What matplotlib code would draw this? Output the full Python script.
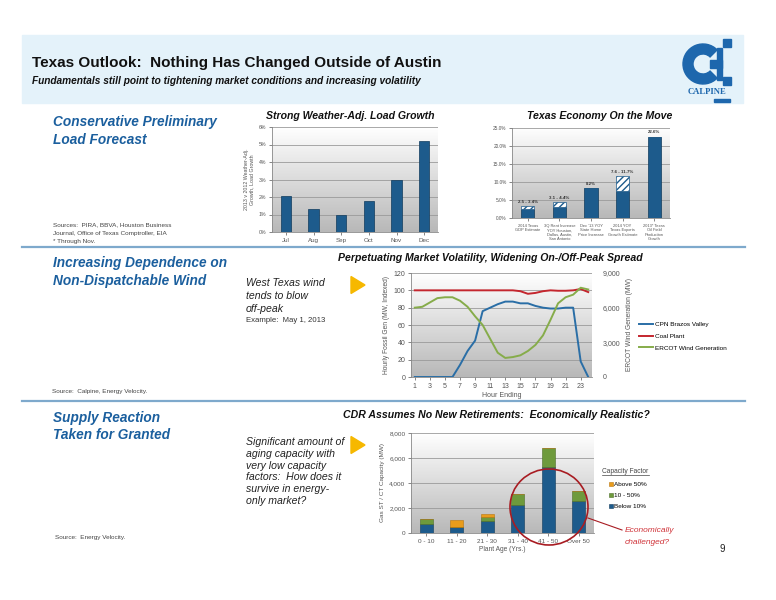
import numpy as np
import matplotlib
matplotlib.use('Agg')
import matplotlib.pyplot as plt
from matplotlib.colors import LinearSegmentedColormap
from matplotlib.patches import Rectangle, Polygon, Ellipse, Wedge
from matplotlib.ticker import FuncFormatter

plt.rcParams['font.family'] = ['Liberation Sans', 'DejaVu Sans']

W, H = 776, 600

# データ: 気温補正後の負荷伸び率 (%)
load_months = ['Jul', 'Aug', 'Sep', 'Oct', 'Nov', 'Dec']
load_growth = [2.05, 1.3, 0.95, 1.8, 2.95, 5.2]

# テキサス経済 (%)
econ_cats = ['2014 Texas\nGDP Estimate',
             '3Q Rent Increase\nYOY Houston,\nDallas, Austin,\nSan Antonio',
             "Dec '13 YOY\nState Home\nPrice Increase",
             '2014 YOY\nTexas Exports\nGrowth Estimate',
             '2013* Texas\nOil Field\nProduction\nGrowth']
econ_low = [2.5, 3.1, 8.2, 7.6, 22.6]
econ_high = [3.4, 4.4, 8.2, 11.7, 22.6]
econ_labels = ['2.5 - 3.4%', '3.1 - 4.4%', '8.2%', '7.6 - 11.7%', '22.6%']

# 2013/5/1 の時間別データ
hours = list(range(1, 25))
brazos = [0, 0, 0, 0, 0, 0, 14, 30, 42, 76, 80, 84, 87, 87, 85, 85, 82, 80, 79, 79, 80, 80, 18, 0]
coal = [100, 100, 100, 100, 100, 100, 100, 100, 100, 100, 100, 100, 100, 100, 99, 96, 97, 99, 100, 99.5, 99.5, 100, 101.5, 98]
wind_mw = [6000, 6075, 6450, 6825, 6900, 6900, 6600, 6075, 5250, 4500, 3300, 2100,
           1650, 1725, 1875, 2250, 2775, 3600, 4950, 6375, 6900, 7125, 7725, 7575]

# 運転年数別のガス火力容量 (MW)
age_groups = ['0 - 10', '11 - 20', '21 - 30', '31 - 40', '41 - 50', 'Over 50']
cap_below10 = [750, 450, 950, 2250, 5300, 2570]
cap_10to50 = [400, 0, 300, 870, 1500, 820]
cap_above50 = [0, 580, 290, 0, 0, 0]

BAR = '#1d5b8c'
HEAD = '#1b5f9e'
GRID = '#9a9a9a'
gcm = LinearSegmentedColormap.from_list('g', ['#ffffff', '#b8b8b8'])
grad = np.linspace(0, 1, 256).reshape(-1, 1)

fig = plt.figure(figsize=(W / 100, H / 100), dpi=100)


def px_axes(x0, y0, x1, y1):
    return fig.add_axes([x0 / W, 1 - y1 / H, (x1 - x0) / W, (y1 - y0) / H])


def style(ax, x0, x1, y0, y1):
    ax.imshow(grad, cmap=gcm, extent=[x0, x1, y0, y1], aspect='auto', zorder=0)
    ax.set_xlim(x0, x1)
    ax.set_ylim(y0, y1)
    ax.set_facecolor('none')
    ax.yaxis.grid(True, color=GRID, lw=0.6)
    ax.set_axisbelow(True)
    for s in ['top', 'right']:
        ax.spines[s].set_visible(False)
    for s in ['left', 'bottom']:
        ax.spines[s].set_color('#888888')
        ax.spines[s].set_linewidth(0.6)
    ax.tick_params(length=2, width=0.5, colors='#555555', labelsize=4.5, pad=2)


# 1. 負荷伸び率
ax1 = px_axes(272, 127, 438, 232)
style(ax1, -0.5, 5.5, 0, 6)
ax1.bar(range(len(load_months)), load_growth, width=0.38, color=BAR, edgecolor='#0f3a5c', lw=0.5, zorder=2)
ax1.set_xticks(range(len(load_months)), load_months)
ax1.set_yticks(range(0, 7))
ax1.yaxis.set_major_formatter(FuncFormatter(lambda v, p: f'{v:.0f}%'))
ax1.tick_params(axis='y', labelsize=3.8)
ax1.set_ylabel('2013 v 2012 Weather-Adj.\nGrowth, Load Growth', fontsize=3.8, color='#555555', labelpad=3)

# 2. テキサス経済
ax2 = px_axes(512, 128, 670, 218)
style(ax2, -0.5, 4.5, 0, 25)
x2 = np.arange(len(econ_cats))
ax2.bar(x2, econ_low, width=0.42, color=BAR, edgecolor='#0f3a5c', lw=0.5, zorder=2)
ax2.bar(x2, np.array(econ_high) - np.array(econ_low), bottom=econ_low, width=0.42,
        color='white', edgecolor=BAR, hatch='/////', lw=0.5, zorder=2)
for xi, top, lab in zip(x2, econ_high, econ_labels):
    ax2.text(xi, top + 0.6, lab, ha='center', va='bottom', fontsize=3.2, fontweight='bold', color='#333333')
ax2.set_xticks(x2, econ_cats)
ax2.set_yticks(range(0, 26, 5))
ax2.yaxis.set_major_formatter(FuncFormatter(lambda v, p: f'{v:.1f}%'))
ax2.tick_params(axis='x', labelsize=2.9)
ax2.tick_params(axis='y', labelsize=3.4)

# 3. 風力と火力の時間別
ax3 = px_axes(411, 273, 592, 377)
style(ax3, 0.5, 24.5, 0, 120)
l1, = ax3.plot(hours, brazos, color='#2a6ea6', lw=1.4, zorder=3)
l2, = ax3.plot(hours, coal, color='#c4262e', lw=1.4, zorder=3)
ax3.set_yticks(range(0, 121, 20))
ax3.set_xticks(range(1, 25, 2))
ax3.set_xlabel('Hour Ending', fontsize=5, color='#555555', labelpad=2)
ax3.set_ylabel('Hourly Fossil Gen (MW, Indexed)', fontsize=4.8, color='#555555', labelpad=3)
ax3.tick_params(labelsize=5)
ax3b = ax3.twinx()
ax3b.set_ylim(0, 9000)
ax3b.set_yticks([0, 3000, 6000, 9000])
ax3b.yaxis.set_major_formatter(FuncFormatter(lambda v, p: f'{v:,.0f}'))
l3, = ax3b.plot(hours, wind_mw, color='#86ac4a', lw=1.4, zorder=3)
for s in ['top', 'left', 'bottom', 'right']:
    ax3b.spines[s].set_visible(False)
ax3b.tick_params(length=0, labelsize=5, colors='#555555', pad=8)
ax3b.set_ylabel('ERCOT Wind Generation (MW)', fontsize=4.8, color='#555555', labelpad=4)
ax3.legend([l1, l2, l3], ['CPN Brazos Valley', 'Coal Plant', 'ERCOT Wind Generation'],
           loc='center left', bbox_to_anchor=(633 / W, 1 - 336 / H), bbox_transform=fig.transFigure,
           frameon=False, fontsize=4.6, handlelength=2.2, labelspacing=1.0, handletextpad=0.3)

# 4. CDR 運転年数別
ax4 = px_axes(411, 433, 594, 533)
style(ax4, -0.5, 5.5, 0, 8000)
x4 = np.arange(len(age_groups))
b_low = ax4.bar(x4, cap_below10, width=0.42, color=BAR, edgecolor='#0f3a5c', lw=0.4, zorder=2)
b_mid = ax4.bar(x4, cap_10to50, bottom=cap_below10, width=0.42, color='#6e9a3c', edgecolor='#4d6e28', lw=0.4, zorder=2)
b_top = ax4.bar(x4, cap_above50, bottom=np.array(cap_below10) + np.array(cap_10to50), width=0.42,
                color='#e89c1c', edgecolor='#b8760e', lw=0.4, zorder=2)
ax4.set_xticks(x4, age_groups)
ax4.set_yticks(range(0, 8001, 2000))
ax4.yaxis.set_major_formatter(FuncFormatter(lambda v, p: f'{v:,.0f}'))
ax4.tick_params(labelsize=4.6)
ax4.set_xlabel('Plant Age (Yrs.)', fontsize=4.8, color='#555555', labelpad=2)
ax4.set_ylabel('Gas ST / CT Capacity (MW)', fontsize=4.6, color='#555555', labelpad=3)
ax4.legend([b_top, b_mid, b_low], ['Above 50%', '10 - 50%', 'Below 10%'],
           loc='upper left', bbox_to_anchor=(603 / W, 1 - 476 / H), bbox_transform=fig.transFigure,
           frameon=False, fontsize=4.6, handlelength=0.6, handleheight=0.6, labelspacing=0.9, handletextpad=0.2)

# スライドの文字と装飾
ov = fig.add_axes([0, 0, 1, 1])
ov.set_xlim(0, W)
ov.set_ylim(H, 0)
ov.axis('off')

ov.add_patch(Rectangle((22, 35), 721, 68, color='#e4f2fa', zorder=0))
narrow = ['Liberation Sans Narrow', 'Liberation Sans', 'DejaVu Sans']
ov.text(32, 63, 'Texas Outlook:  Nothing Has Changed Outside of Austin', family=narrow,
        fontsize=11, fontweight='bold', va='center', color='#111111')
ov.text(32, 81, 'Fundamentals still point to tightening market conditions and increasing volatility', family=narrow,
        fontsize=7.3, fontweight='bold', style='italic', va='center', color='#111111')

# ロゴ
LOGO = '#1e67ad'
ov.add_patch(Wedge((703, 64), 20, 45, 315, width=10, color=LOGO))
ov.add_patch(Rectangle((710, 60), 12, 8, color=LOGO))
ov.add_patch(Rectangle((717, 48), 5, 32, color=LOGO))
ov.add_patch(Rectangle((723, 39), 8, 8, color=LOGO))
ov.add_patch(Rectangle((723, 77), 8, 8, color=LOGO))
ov.text(707, 92, 'CALPINE', family=['Liberation Serif'], fontsize=6.2, fontweight='bold',
        color=LOGO, ha='center', va='center')
ov.add_patch(Rectangle((714, 98.5), 16, 3, color=LOGO))

# 区切り線
for yl in [247, 401]:
    ov.plot([22, 745], [yl, yl], color='#7ea9cc', lw=1.6)

head_kw = dict(fontsize=9.8, fontweight='bold', style='italic', color=HEAD, va='center')
ov.text(53, 122, 'Conservative Preliminary', **head_kw)
ov.text(53, 140, 'Load Forecast', **head_kw)
ov.text(53, 263, 'Increasing Dependence on', **head_kw)
ov.text(53, 281, 'Non-Dispatchable Wind', **head_kw)
ov.text(53, 418, 'Supply Reaction', **head_kw)
ov.text(53, 435, 'Taken for Granted', **head_kw)

src_kw = dict(fontsize=4.6, color='#444444', va='center')
ov.text(53, 225, 'Sources:  PIRA, BBVA, Houston Business', **src_kw)
ov.text(53, 233.5, 'Journal, Office of Texas Comptroller, EIA', **src_kw)
ov.text(53, 241.5, '* Through Nov.', **src_kw)
ov.text(52, 392, 'Source:  Calpine, Energy Velocity.', **src_kw)
ov.text(55, 538, 'Source:  Energy Velocity.', **src_kw)

title_kw = dict(fontsize=7.6, fontweight='bold', style='italic', color='#111111', ha='center', va='center')
ov.text(350, 116, 'Strong Weather-Adj. Load Growth', **title_kw)
ov.text(600, 116, 'Texas Economy On the Move', **title_kw)
ov.text(490, 258, 'Perpetuating Market Volatility, Widening On-/Off-Peak Spread', **title_kw)
ov.text(496, 415, 'CDR Assumes No New Retirements:  Economically Realistic?', **title_kw)

body_kw = dict(fontsize=7.6, style='italic', color='#222222', va='center')
for i, line in enumerate(['West Texas wind', 'tends to blow', 'off-peak']):
    ov.text(246, 283 + i * 13, line, **body_kw)
ov.text(246, 320, 'Example:  May 1, 2013', fontsize=5.6, color='#333333', va='center')
for i, line in enumerate(['Significant amount of', 'aging capacity with', 'very low capacity',
                          'factors:  How does it', 'survive in energy-', 'only market?']):
    ov.text(246, 442 + i * 11.8, line, **body_kw)

for ty in [285, 445]:
    ov.add_patch(Polygon([(351, ty - 8.5), (365, ty), (351, ty + 8.5)], color='#f6b800'))

ov.text(602, 471.5, 'Capacity Factor', fontsize=4.8, color='#444444', va='center')
ov.plot([602, 649], [475, 475], color='#444444', lw=0.5)

ov.add_patch(Ellipse((549, 507), 78, 76, fill=False, edgecolor='#a81c22', lw=1.2))
ov.plot([588, 622], [518, 530], color='#a81c22', lw=0.8)
ov.text(625, 531, 'Economically', fontsize=6, style='italic', color='#d0343a', va='center')
ov.text(625, 542, 'challenged?', fontsize=6, style='italic', color='#d0343a', va='center')
ov.text(719, 549, '9', fontsize=7, color='#222222', va='center')

fig.savefig('out.png', dpi=100)
